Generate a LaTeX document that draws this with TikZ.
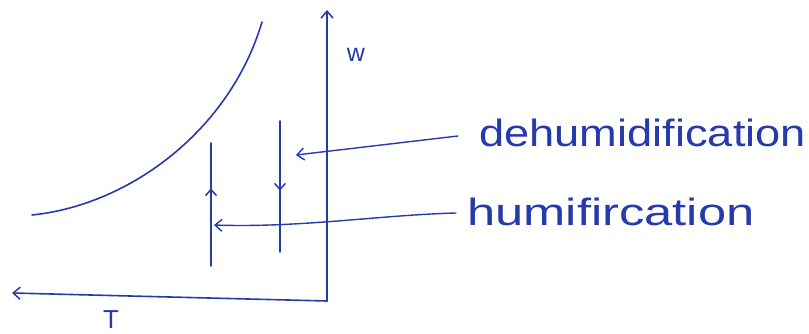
\documentclass[tikz,border=0pt]{standalone}
\usepackage{fontspec}
\setmainfont{Liberation Sans}
\usetikzlibrary{arrows.meta,decorations.markings}
\definecolor{ink}{RGB}{38,58,170}
\tikzset{
  pen/.style={draw=ink, line width=1.6pt, line cap=round},
  axisarrow/.style={pen, -{Straight Barb[length=7pt,width=12pt,line width=1.5pt]}},
  pointer/.style={pen, line width=1.4pt, -{Straight Barb[length=7pt,width=12pt,line width=1.4pt]}},
  lbl/.style={text=ink, inner sep=0pt, xscale=1.19, font=\fontsize{38}{38}\selectfont},
  upmark/.style={decoration={markings, mark=at position #1 with {\arrow[ink,line width=1.5pt]{Straight Barb[length=6pt,width=11pt]}}}, postaction=decorate},
}
\begin{document}
\begin{tikzpicture}[x=1pt,y=-1pt]
\useasboundingbox (0,0) rectangle (809,334);
% axes
\coordinate (O) at (327,301);
\coordinate (Wtop) at (327,10);
\coordinate (Tend) at (12,293);
\draw[axisarrow] (O) -- (Wtop);
\draw[axisarrow] (O) -- (Tend);
\node[text=ink, font=\fontsize{25}{25}\selectfont] (w) at (356,55) {w};
\node[text=ink, font=\fontsize{26}{26}\selectfont] (T) at (111,320) {T};
% saturation curve
\draw[pen] (32,215) .. controls (130,205) and (230,130) .. (262,22);
% process lines
\coordinate (L1) at (211,266);
\coordinate (L2) at (211,143);
\coordinate (R1) at (280,121);
\coordinate (R2) at (280,252);
\draw[pen, upmark=0.63] (L1) -- (L2);
\draw[pen, upmark=0.53] (R1) -- (R2);
% labels
\node[lbl, anchor=west] (dl) at (479,133) {dehumidification};
\node[lbl, anchor=west, xscale=1.12] (hl) at (467,212) {humifircation};
\coordinate (dtip) at (296,155);
\coordinate (htip) at (214,225);
\coordinate (dstart) at (458,136);
\coordinate (hstart) at (456,213);
\draw[pointer] (dstart) -- (dtip);
\draw[pointer] (hstart) .. controls (380,215) and (300,228) .. (htip);
\end{tikzpicture}
\end{document}
